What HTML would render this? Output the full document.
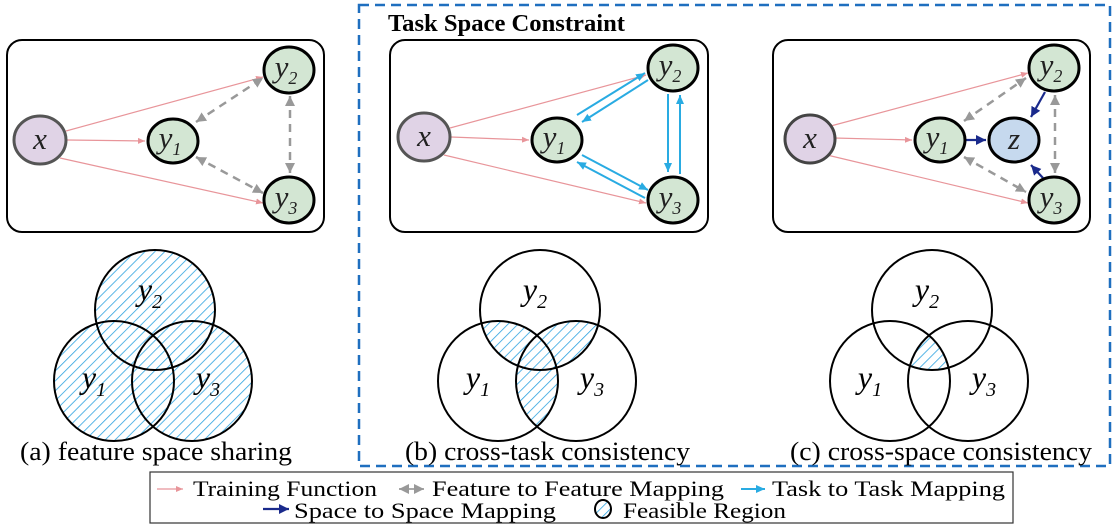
<!DOCTYPE html>
<html><head><meta charset="utf-8"><style>html,body{margin:0;padding:0;background:#fff}svg{display:block}</style></head><body>
<svg width="1117" height="529" viewBox="0 0 1117 529" xmlns="http://www.w3.org/2000/svg" font-family="Liberation Serif, serif">
<defs>
<pattern id="h" patternUnits="userSpaceOnUse" width="7" height="7" patternTransform="rotate(45)"><rect width="7" height="7" fill="#fff"/><line x1="0" y1="0" x2="0" y2="7" stroke="#2ea3e0" stroke-width="1.6"/></pattern>
<marker id="mp" markerWidth="8" markerHeight="8" refX="7" refY="4" orient="auto" markerUnits="userSpaceOnUse"><path d="M0,1 L7,4 L0,7z" fill="#e8959a"/></marker>
<marker id="mg" markerWidth="12" markerHeight="12" refX="10" refY="6" orient="auto-start-reverse" markerUnits="userSpaceOnUse"><path d="M0,1 L10,6 L0,11z" fill="#999"/></marker>
<marker id="mc" markerWidth="10" markerHeight="10" refX="9" refY="5" orient="auto" markerUnits="userSpaceOnUse"><path d="M0,1 L9,5 L0,9z" fill="#29abe2"/></marker>
<marker id="mn" markerWidth="12" markerHeight="12" refX="10" refY="6" orient="auto" markerUnits="userSpaceOnUse"><path d="M0,1 L10,6 L0,11z" fill="#1a2a8c"/></marker>
<clipPath id="bA"><circle cx="540" cy="310" r="60"/></clipPath>
<clipPath id="bB"><circle cx="498" cy="381" r="60"/></clipPath>
<clipPath id="cA"><circle cx="932" cy="310" r="60"/></clipPath>
<clipPath id="cB"><circle cx="890" cy="381" r="60"/></clipPath>
</defs>

<rect x="359" y="5" width="751" height="461" fill="none" stroke="#1f6fbf" stroke-width="2.5" stroke-dasharray="10,6"/>
<text x="388" y="31" font-size="24" font-weight="bold" textLength="237" lengthAdjust="spacingAndGlyphs">Task Space Constraint</text>

<rect x="7" y="40" width="317" height="192" rx="15" fill="#fff" stroke="#000" stroke-width="2"/>
<rect x="390" y="40" width="318" height="192" rx="15" fill="#fff" stroke="#000" stroke-width="2"/>
<rect x="773" y="40" width="317" height="192" rx="15" fill="#fff" stroke="#000" stroke-width="2"/>

<g stroke="#e8959a" stroke-width="1.2" marker-end="url(#mp)">
<line x1="66" y1="131" x2="263" y2="77"/><line x1="67" y1="140" x2="145" y2="141"/><line x1="60" y1="158" x2="263" y2="203"/>
<line x1="450" y1="128" x2="646" y2="75"/><line x1="451" y1="137" x2="529" y2="140"/><line x1="444" y1="155" x2="646" y2="203"/>
<line x1="827" y1="127" x2="1028" y2="73"/><line x1="834" y1="138" x2="912" y2="140"/><line x1="827" y1="155" x2="1028" y2="203"/>
</g>
<g stroke="#999" stroke-width="2.5" stroke-dasharray="8,6" marker-start="url(#mg)" marker-end="url(#mg)">
<line x1="196" y1="122" x2="263" y2="78"/><line x1="196" y1="157" x2="263" y2="193"/><line x1="290" y1="96" x2="290" y2="173"/>
<line x1="964" y1="121" x2="1026" y2="78"/><line x1="964" y1="157" x2="1026" y2="192"/><line x1="1055" y1="95" x2="1055" y2="173"/>
</g>
<g stroke="#29abe2" stroke-width="2" marker-end="url(#mc)">
<line x1="648" y1="80" x2="582" y2="122"/><line x1="577" y1="115" x2="645" y2="73"/>
<line x1="582" y1="155" x2="648" y2="190"/><line x1="645" y1="198" x2="577" y2="162"/>
<line x1="668" y1="94" x2="668" y2="172"/><line x1="680" y1="174" x2="680" y2="95"/>
</g>
<g stroke="#1a2a8c" stroke-width="2.2" marker-end="url(#mn)">
<line x1="966" y1="140" x2="986" y2="140"/><line x1="1045" y1="92" x2="1031" y2="117"/><line x1="1043" y1="178" x2="1031" y2="165"/>
</g>

<g stroke-width="3">
<ellipse cx="40" cy="140" rx="26" ry="24" fill="#e0d3e6" stroke="#555"/>
<ellipse cx="173" cy="141" rx="25" ry="22" fill="#d3e6d3" stroke="#000"/>
<ellipse cx="289" cy="70" rx="25" ry="23" fill="#d3e6d3" stroke="#000"/>
<ellipse cx="289" cy="200" rx="25" ry="23" fill="#d3e6d3" stroke="#000"/>
<ellipse cx="424" cy="137" rx="26" ry="24" fill="#e0d3e6" stroke="#555"/>
<ellipse cx="557" cy="140" rx="25" ry="22" fill="#d3e6d3" stroke="#000"/>
<ellipse cx="673" cy="68" rx="25" ry="23" fill="#d3e6d3" stroke="#000"/>
<ellipse cx="673" cy="200" rx="25" ry="23" fill="#d3e6d3" stroke="#000"/>
<ellipse cx="810" cy="139" rx="25" ry="24" fill="#e0d3e6" stroke="#444"/>
<ellipse cx="940" cy="140" rx="25" ry="22" fill="#d3e6d3" stroke="#000"/>
<ellipse cx="1014" cy="140" rx="25" ry="22" fill="#c6d9ee" stroke="#000"/>
<ellipse cx="1054" cy="68" rx="25" ry="23" fill="#d3e6d3" stroke="#000"/>
<ellipse cx="1054" cy="200" rx="25" ry="23" fill="#d3e6d3" stroke="#000"/>
</g>
<g font-size="31" font-style="italic" text-anchor="middle" fill="#222">
<text x="40" y="149">x</text><text x="424" y="146">x</text><text x="810" y="148">x</text><text x="1014" y="149">z</text>
<text x="170" y="148">y<tspan font-size="18" dy="7">1</tspan></text>
<text x="286" y="77">y<tspan font-size="18" dy="7">2</tspan></text>
<text x="286" y="207">y<tspan font-size="18" dy="7">3</tspan></text>
<text x="554" y="147">y<tspan font-size="18" dy="7">1</tspan></text>
<text x="670" y="75">y<tspan font-size="18" dy="7">2</tspan></text>
<text x="670" y="207">y<tspan font-size="18" dy="7">3</tspan></text>
<text x="937" y="147">y<tspan font-size="18" dy="7">1</tspan></text>
<text x="1051" y="75">y<tspan font-size="18" dy="7">2</tspan></text>
<text x="1051" y="207">y<tspan font-size="18" dy="7">3</tspan></text>
</g>

<g fill="url(#h)"><circle cx="155" cy="310" r="60"/><circle cx="114" cy="381" r="60"/><circle cx="192" cy="381" r="60"/></g>
<g fill="none" stroke="#000" stroke-width="2"><circle cx="155" cy="310" r="60"/><circle cx="114" cy="381" r="60"/><circle cx="192" cy="381" r="60"/></g>
<g clip-path="url(#bA)"><circle cx="498" cy="381" r="60" fill="url(#h)"/><circle cx="576" cy="381" r="60" fill="url(#h)"/></g>
<g clip-path="url(#bB)"><circle cx="576" cy="381" r="60" fill="url(#h)"/></g>
<g fill="none" stroke="#000" stroke-width="2"><circle cx="540" cy="310" r="60"/><circle cx="498" cy="381" r="60"/><circle cx="576" cy="381" r="60"/></g>
<g clip-path="url(#cA)"><g clip-path="url(#cB)"><circle cx="968" cy="381" r="60" fill="url(#h)"/></g></g>
<g fill="none" stroke="#000" stroke-width="2"><circle cx="932" cy="310" r="60"/><circle cx="890" cy="381" r="60"/><circle cx="968" cy="381" r="60"/></g>

<g font-size="32" font-style="italic" text-anchor="middle">
<text x="150" y="300">y<tspan font-size="20" dy="8">2</tspan></text>
<text x="94" y="388">y<tspan font-size="20" dy="8">1</tspan></text>
<text x="208" y="388">y<tspan font-size="20" dy="8">3</tspan></text>
<text x="535" y="300">y<tspan font-size="20" dy="8">2</tspan></text>
<text x="478" y="388">y<tspan font-size="20" dy="8">1</tspan></text>
<text x="592" y="388">y<tspan font-size="20" dy="8">3</tspan></text>
<text x="927" y="300">y<tspan font-size="20" dy="8">2</tspan></text>
<text x="870" y="388">y<tspan font-size="20" dy="8">1</tspan></text>
<text x="984" y="388">y<tspan font-size="20" dy="8">3</tspan></text>
</g>
<g font-size="26" lengthAdjust="spacingAndGlyphs">
<text x="20" y="460" textLength="272" lengthAdjust="spacingAndGlyphs">(a) feature space sharing</text>
<text x="405" y="460" textLength="285" lengthAdjust="spacingAndGlyphs">(b) cross-task consistency</text>
<text x="790" y="460" textLength="302" lengthAdjust="spacingAndGlyphs">(c) cross-space consistency</text>
</g>

<rect x="150" y="472" width="863" height="51" fill="#fff" stroke="#333" stroke-width="1.2"/>
<g font-size="22">
<line x1="157" y1="489" x2="183" y2="489" stroke="#e8959a" stroke-width="1.2" marker-end="url(#mp)"/>
<text x="193" y="496" textLength="184" lengthAdjust="spacingAndGlyphs">Training Function</text>
<line x1="399" y1="489" x2="424" y2="489" stroke="#aaa" stroke-width="2" marker-start="url(#mg)" marker-end="url(#mg)"/>
<text x="432" y="496" textLength="292" lengthAdjust="spacingAndGlyphs">Feature to Feature Mapping</text>
<line x1="741" y1="489" x2="765" y2="489" stroke="#29abe2" stroke-width="2" marker-end="url(#mc)"/>
<text x="772" y="496" textLength="233" lengthAdjust="spacingAndGlyphs">Task to Task Mapping</text>
<line x1="263" y1="509" x2="289" y2="509" stroke="#1a2a8c" stroke-width="2.2" marker-end="url(#mn)"/>
<text x="294" y="518" textLength="262" lengthAdjust="spacingAndGlyphs">Space to Space Mapping</text>
<ellipse cx="603" cy="509" rx="8" ry="9" fill="url(#h)" stroke="#000" stroke-width="2"/>
<text x="623" y="518" textLength="163" lengthAdjust="spacingAndGlyphs">Feasible Region</text>
</g>
</svg>
</body></html>
